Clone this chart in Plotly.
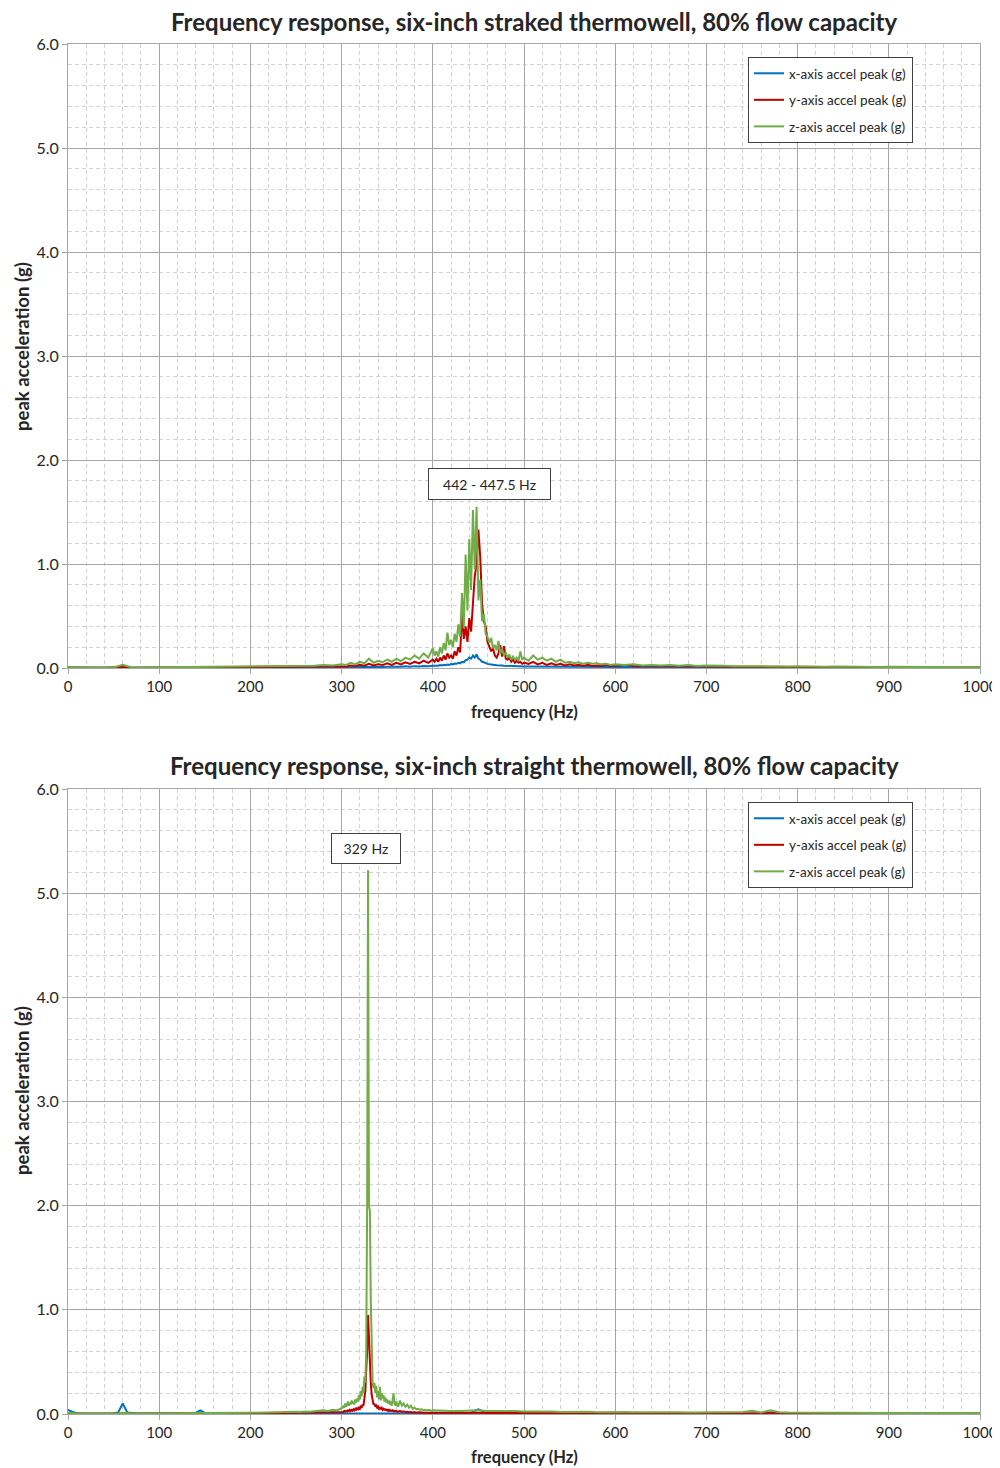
import numpy as np
import plotly.graph_objects as go

# ---------------- frequency grids (Hz) ----------------
freq_top = np.concatenate([np.arange(0, 300, 10), np.arange(300, 400, 5),
                           np.arange(400, 500, 2), np.arange(500, 600, 5),
                           np.arange(600, 1001, 10)])
freq_bot = np.concatenate([np.arange(0, 300, 5), np.arange(300, 360, 1),
                           np.arange(360, 400, 2), np.arange(400, 1001, 10)])

# ---------------- top chart: straked thermowell ----------------
top_x = [
    0.004,0.002,0.002,0.002,0.002,0.002,0.006,0.002,0.002,0.002,
    0.003,0.003,0.003,0.003,0.003,0.004,0.004,0.004,0.004,0.005,
    0.005,0.005,0.005,0.006,0.006,0.006,0.006,0.007,0.007,0.007,
    0.008,0.007,0.009,0.008,0.010,0.009,0.011,0.010,0.012,0.010,
    0.013,0.011,0.014,0.012,0.016,0.013,0.018,0.015,0.020,0.017,
    0.022,0.020,0.025,0.022,0.028,0.024,0.030,0.027,0.034,0.030,
    0.038,0.035,0.042,0.040,0.050,0.045,0.060,0.055,0.075,0.080,
    0.100,0.090,0.120,0.100,0.130,0.090,0.080,0.060,0.055,0.045,
    0.040,0.035,0.035,0.030,0.030,0.027,0.028,0.025,0.025,0.022,
    0.022,0.020,0.020,0.018,0.018,0.017,0.017,0.016,0.016,0.015,
    0.015,0.014,0.014,0.013,0.013,0.012,0.012,0.011,0.011,0.011,
    0.010,0.010,0.010,0.009,0.009,0.009,0.009,0.008,0.008,0.008,
    0.008,0.008,0.007,0.007,0.007,0.007,0.006,0.006,0.006,0.006,
    0.006,0.006,0.005,0.005,0.005,0.005,0.005,0.005,0.005,0.005,
    0.004,0.004,0.004,0.004,0.004,0.004,0.004,0.004,0.004,0.004,
    0.004,0.004,0.003,0.003,0.003,0.003,0.003,0.003,0.003,0.003,
    0.003,
]
top_y = [
    0.005,0.002,0.002,0.002,0.002,0.003,0.010,0.003,0.002,0.003,
    0.004,0.005,0.006,0.005,0.007,0.006,0.008,0.007,0.010,0.008,
    0.011,0.009,0.012,0.010,0.013,0.011,0.015,0.012,0.016,0.014,
    0.018,0.015,0.025,0.018,0.030,0.022,0.040,0.025,0.035,0.028,
    0.045,0.030,0.050,0.035,0.055,0.040,0.060,0.045,0.070,0.050,
    0.08,0.06,0.09,0.06,0.10,0.07,0.12,0.08,0.14,0.10,
    0.12,0.09,0.16,0.12,0.20,0.15,0.51,0.28,0.40,0.25,
    0.48,0.35,0.62,0.88,1.00,1.33,1.07,0.62,0.45,0.40,
    0.25,0.20,0.16,0.19,0.12,0.10,0.14,0.22,0.11,0.21,
    0.09,0.08,0.10,0.06,0.08,0.05,0.07,0.05,0.06,0.04,
    0.05,0.04,0.06,0.035,0.05,0.03,0.045,0.03,0.04,0.025,
    0.035,0.025,0.03,0.02,0.03,0.02,0.025,0.02,0.03,0.02,
    0.025,0.030,0.020,0.020,0.018,0.020,0.016,0.015,0.018,0.014,
    0.015,0.013,0.014,0.012,0.013,0.011,0.012,0.010,0.012,0.010,
    0.011,0.009,0.010,0.009,0.010,0.008,0.009,0.008,0.009,0.007,
    0.008,0.007,0.008,0.006,0.007,0.006,0.007,0.006,0.006,0.005,
    0.005,
]
top_z = [
    0.012,0.004,0.004,0.004,0.004,0.005,0.030,0.005,0.004,0.005,
    0.006,0.008,0.010,0.008,0.012,0.010,0.014,0.012,0.016,0.014,
    0.018,0.015,0.020,0.018,0.022,0.020,0.026,0.022,0.030,0.025,
    0.035,0.030,0.050,0.035,0.060,0.045,0.090,0.050,0.070,0.055,
    0.080,0.060,0.090,0.065,0.100,0.080,0.120,0.090,0.140,0.100,
    0.19,0.12,0.16,0.11,0.20,0.14,0.24,0.17,0.34,0.22,
    0.27,0.20,0.33,0.25,0.42,0.30,0.72,0.38,1.09,0.55,
    1.24,0.75,1.52,0.95,1.55,0.65,0.85,0.45,0.52,0.33,
    0.30,0.24,0.29,0.19,0.22,0.17,0.26,0.14,0.18,0.12,
    0.15,0.10,0.13,0.08,0.11,0.08,0.10,0.07,0.16,0.08,
    0.10,0.07,0.12,0.08,0.10,0.07,0.09,0.06,0.08,0.05,
    0.06,0.045,0.055,0.04,0.05,0.04,0.045,0.035,0.04,0.03,
    0.035,0.030,0.035,0.025,0.030,0.025,0.030,0.022,0.028,0.020,
    0.025,0.020,0.022,0.018,0.020,0.016,0.018,0.015,0.018,0.014,
    0.016,0.013,0.015,0.012,0.014,0.012,0.013,0.011,0.012,0.010,
    0.012,0.010,0.011,0.009,0.010,0.009,0.010,0.008,0.009,0.008,
    0.008,
]

# ---------------- bottom chart: straight thermowell ----------------
bot_x = [
    0.040,0.020,0.008,0.005,0.004,0.004,0.004,0.004,0.004,0.005,
    0.008,0.015,0.100,0.015,0.008,0.005,0.004,0.004,0.004,0.004,
    0.004,0.004,0.004,0.004,0.004,0.005,0.005,0.005,0.010,0.035,
    0.010,0.005,0.006,0.005,0.005,0.005,0.005,0.005,0.005,0.005,
    0.005,0.005,0.005,0.005,0.005,0.005,0.005,0.005,0.005,0.005,
    0.005,0.005,0.005,0.005,0.005,0.005,0.005,0.005,0.005,0.005,
    0.005,0.005,0.005,0.005,0.005,0.005,0.005,0.005,0.005,0.005,
    0.005,0.005,0.005,0.005,0.005,0.005,0.005,0.005,0.005,0.005,
    0.005,0.005,0.005,0.005,0.005,0.006,0.006,0.008,0.010,0.012,
    0.010,0.008,0.006,0.006,0.005,0.005,0.005,0.005,0.005,0.005,
    0.005,0.005,0.005,0.005,0.005,0.005,0.005,0.005,0.005,0.005,
    0.005,0.005,0.005,0.005,0.005,0.005,0.005,0.005,0.005,0.005,
    0.005,0.005,0.005,0.005,0.005,0.005,0.005,0.005,0.005,0.005,
    0.005,0.005,0.005,0.005,0.005,0.005,0.005,0.005,0.005,0.005,
    0.005,0.005,0.005,0.005,0.005,0.045,0.005,0.005,0.005,0.005,
    0.005,0.005,0.005,0.005,0.005,0.005,0.005,0.005,0.005,0.005,
    0.005,0.005,0.005,0.005,0.005,0.005,0.005,0.005,0.005,0.005,
    0.005,0.005,0.005,0.005,0.006,0.007,0.005,0.008,0.005,0.005,
    0.004,0.004,0.004,0.004,0.004,0.004,0.004,0.004,0.004,0.004,
    0.004,0.004,0.004,0.004,0.004,0.004,0.004,0.004,0.004,0.004,
    0.004,
]
bot_y = [
    0.004,0.002,0.002,0.002,0.002,0.002,0.002,0.002,0.002,0.002,
    0.002,0.002,0.005,0.002,0.002,0.002,0.002,0.002,0.002,0.002,
    0.003,0.003,0.003,0.003,0.003,0.003,0.003,0.003,0.003,0.004,
    0.004,0.004,0.004,0.004,0.005,0.005,0.005,0.005,0.006,0.006,
    0.006,0.007,0.007,0.008,0.008,0.009,0.009,0.010,0.010,0.011,
    0.011,0.012,0.012,0.013,0.014,0.015,0.016,0.017,0.018,0.020,
    0.020,0.025,0.020,0.030,0.022,0.030,0.025,0.035,0.028,0.040,
    0.030,0.040,0.032,0.045,0.035,0.050,0.040,0.055,0.045,0.060,
    0.050,0.070,0.060,0.090,0.080,0.150,0.220,0.420,0.600,0.950,
    0.700,0.500,0.300,0.180,0.120,0.090,0.100,0.070,0.080,0.060,
    0.070,0.050,0.060,0.050,0.060,0.040,0.050,0.040,0.045,0.035,
    0.040,0.030,0.040,0.030,0.035,0.030,0.035,0.025,0.030,0.025,
    0.030,0.020,0.030,0.020,0.025,0.018,0.022,0.016,0.020,0.015,
    0.018,0.013,0.016,0.012,0.015,0.012,0.014,0.011,0.013,0.010,
    0.012,0.011,0.012,0.010,0.011,0.010,0.011,0.010,0.010,0.009,
    0.010,0.009,0.009,0.008,0.009,0.008,0.008,0.008,0.008,0.007,
    0.008,0.007,0.007,0.007,0.007,0.006,0.007,0.006,0.006,0.006,
    0.006,0.006,0.006,0.006,0.010,0.012,0.006,0.015,0.008,0.005,
    0.005,0.005,0.005,0.005,0.005,0.005,0.004,0.004,0.004,0.004,
    0.004,0.004,0.004,0.004,0.004,0.004,0.004,0.003,0.003,0.003,
    0.003,
]
bot_z = [
    0.012,0.006,0.004,0.004,0.004,0.004,0.004,0.004,0.004,0.004,
    0.005,0.006,0.012,0.006,0.005,0.004,0.004,0.004,0.004,0.004,
    0.005,0.005,0.005,0.005,0.006,0.006,0.006,0.006,0.007,0.010,
    0.007,0.007,0.008,0.008,0.009,0.009,0.010,0.010,0.011,0.011,
    0.012,0.013,0.014,0.020,0.015,0.016,0.017,0.022,0.018,0.020,
    0.022,0.020,0.025,0.022,0.028,0.030,0.035,0.030,0.040,0.035,
    0.05,0.06,0.08,0.06,0.10,0.07,0.09,0.12,0.08,0.11,
    0.09,0.13,0.10,0.12,0.09,0.14,0.11,0.15,0.12,0.18,
    0.14,0.22,0.17,0.26,0.20,0.36,0.30,0.60,2.00,5.22,
    2.00,1.95,1.10,0.55,0.30,0.25,0.30,0.20,0.27,0.16,
    0.22,0.14,0.26,0.13,0.20,0.15,0.18,0.12,0.16,0.11,
    0.14,0.10,0.13,0.09,0.12,0.08,0.14,0.20,0.10,0.08,
    0.12,0.07,0.13,0.08,0.10,0.07,0.09,0.06,0.08,0.05,
    0.06,0.045,0.05,0.04,0.045,0.035,0.04,0.035,0.04,0.03,
    0.035,0.030,0.030,0.028,0.030,0.035,0.028,0.030,0.025,0.028,
    0.024,0.026,0.022,0.025,0.020,0.022,0.020,0.022,0.018,0.020,
    0.018,0.020,0.017,0.018,0.016,0.017,0.015,0.016,0.014,0.015,
    0.014,0.015,0.013,0.014,0.020,0.030,0.015,0.035,0.018,0.014,
    0.012,0.013,0.011,0.012,0.011,0.011,0.010,0.011,0.010,0.010,
    0.009,0.010,0.009,0.009,0.008,0.009,0.008,0.008,0.008,0.007,
    0.007,
]

for arr in (top_x, top_y, top_z):
    assert len(arr) == len(freq_top), len(arr)
for arr in (bot_x, bot_y, bot_z):
    assert len(arr) == len(freq_bot), len(arr)

series_names = ["x-axis accel peak (g)", "y-axis accel peak (g)", "z-axis accel peak (g)"]
series_colors = ["#0070C0", "#C00000", "#70AD47"]
titles = ["Frequency response, six-inch straked thermowell, 80% flow capacity",
          "Frequency response, six-inch straight thermowell, 80% flow capacity"]
x_ticks = [0, 100, 200, 300, 400, 500, 600, 700, 800, 900, 1000]
y_ticks = [0.0, 1.0, 2.0, 3.0, 4.0, 5.0, 6.0]
peak_labels = ["442 - 447.5 Hz", "329 Hz"]

FONT = "Lato, 'Open Sans', sans-serif"
TXT = "#262626"
MAJ = "#a6a6a6"
MIN = "#d2d2d2"

fig = go.Figure()
for i, (vals, axes, leg) in enumerate([
        ((top_x, top_y, top_z), ("x", "y"), "legend"),
        ((bot_x, bot_y, bot_z), ("x2", "y2"), "legend2")]):
    fr = freq_top if i == 0 else freq_bot
    for k in range(3):
        fig.add_trace(go.Scatter(
            x=fr, y=vals[k], mode="lines", name=series_names[k],
            line=dict(color=series_colors[k], width=2),
            xaxis=axes[0], yaxis=axes[1], legend=leg,
            legendgroup=f"{leg}_{k}"))

def xax(anchor):
    return dict(anchor=anchor, domain=[0, 1], range=[0, 1000], tickvals=x_ticks,
                automargin=False, ticklabeloverflow="allow",
                showgrid=True, gridcolor=MAJ, gridwidth=1, zeroline=False,
                showline=True, linecolor=MAJ, linewidth=1, mirror=True,
                ticks="outside", ticklen=5, tickcolor=MAJ,
                tickfont=dict(family=FONT, size=15, color=TXT),
                minor=dict(dtick=20, tick0=0, showgrid=True, gridcolor=MIN,
                           griddash="4px,3px", gridwidth=1, ticks=""))

def yax(anchor, dom):
    return dict(anchor=anchor, domain=dom, range=[0, 6], tickvals=y_ticks,
                tickformat=".1f", automargin=False, ticklabeloverflow="allow",
                showgrid=True, gridcolor=MAJ, gridwidth=1, zeroline=False,
                showline=True, linecolor=MAJ, linewidth=1, mirror=True,
                ticks="outside", ticklen=5, tickcolor=MAJ,
                tickfont=dict(family=FONT, size=16, color=TXT),
                minor=dict(dtick=0.2, tick0=0, showgrid=True, gridcolor=MIN,
                           griddash="4px,3px", gridwidth=1, ticks=""))

# The page body has an 8px margin; the figure is sized so that the
# plot areas land at page pixels x 68..980, y 44..668 and 789..1414.
H_PLOT = 1370.0
def py(p):  # page pixel row -> paper y
    return (1414 - p) / H_PLOT
def px(p):  # page pixel col -> paper x
    return (p - 68) / 912.0

legend_common = dict(xanchor="left", yanchor="top", x=px(748),
                     bordercolor="#404040", borderwidth=1, bgcolor="white",
                     font=dict(family=FONT, size=13.5, color=TXT),
                     tracegroupgap=6)

fig.update_layout(
    width=992, height=1460,
    margin=dict(l=60, r=20, t=36, b=54, autoexpand=False),
    paper_bgcolor="white", plot_bgcolor="white",
    xaxis=xax("y"), yaxis=yax("x", [py(668), 1.0]),
    xaxis2=xax("y2"), yaxis2=yax("x2", [0.0, py(789)]),
    legend=dict(y=py(57), **legend_common),
    legend2=dict(y=py(802), **legend_common),
    showlegend=True,
)

ann = []
for t, yp in zip(titles, [21, 765]):
    ann.append(dict(text=t, xref="paper", yref="paper", x=px(534), y=py(yp),
                    xanchor="center", yanchor="middle", showarrow=False,
                    font=dict(family=FONT, size=24, color=TXT, weight="bold")))
for yp in [712, 1457]:
    ann.append(dict(text="frequency (Hz)", xref="paper", yref="paper", x=px(524), y=py(yp),
                    xanchor="center", yanchor="middle", showarrow=False,
                    font=dict(family=FONT, size=16.5, color=TXT, weight="bold")))
for yp in [347, 1091]:
    ann.append(dict(text="peak acceleration (g)", xref="paper", yref="paper", x=px(22), y=py(yp),
                    xanchor="center", yanchor="middle", showarrow=False, textangle=-90,
                    font=dict(family=FONT, size=18.5, color=TXT, weight="bold")))
ann.append(dict(text=peak_labels[0], xref="x", yref="y", x=462, y=1.77,
                showarrow=False, bordercolor="#404040", borderwidth=1, borderpad=1,
                bgcolor="white", width=119, height=28,
                font=dict(family=FONT, size=14, color=TXT)))
ann.append(dict(text=peak_labels[1], xref="x2", yref="y2", x=326.8, y=5.43,
                showarrow=False, bordercolor="#404040", borderwidth=1, borderpad=1,
                bgcolor="white", width=66, height=27,
                font=dict(family=FONT, size=14, color=TXT)))
fig.update_layout(annotations=ann)

fig.write_html("out.html")
